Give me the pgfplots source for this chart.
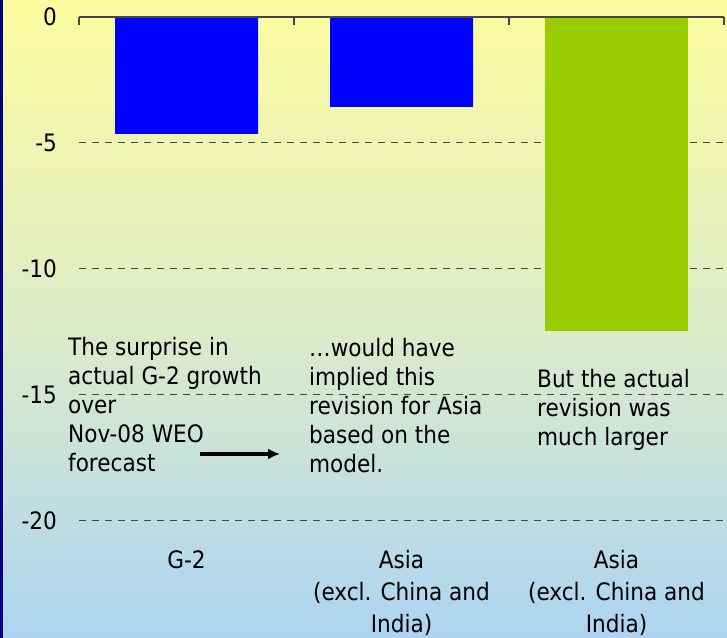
\documentclass[border=0pt]{standalone}
\usepackage{fontspec}
\setmainfont{DejaVu Sans Condensed}
\usepackage{pgfplots}
\pgfplotsset{compat=1.18}
\usetikzlibrary{arrows.meta}
\definecolor{bgtop}{RGB}{252,252,158}
\definecolor{bgmid}{RGB}{222,236,200}
\definecolor{bgbot}{RGB}{172,212,242}
\definecolor{navyb}{RGB}{0,0,128}
\definecolor{barblue}{RGB}{0,0,255}
\definecolor{bargreen}{RGB}{153,204,0}
\definecolor{gridgray}{RGB}{70,70,70}
\newcommand{\lines}[2][l]{\begin{tabular}[t]{@{}#1@{}}#2\end{tabular}}
\begin{document}
\fontsize{24bp}{29bp}\selectfont
\begin{tikzpicture}[x=1bp,y=1bp]
\shade[top color=bgtop, bottom color=bgbot, middle color=bgmid] (0,0) rectangle (727,638);
\fill[navyb] (0,0) rectangle (3,638);
\begin{axis}[
  at={(79bp,117bp)}, anchor=south west,
  scale only axis, width=645bp, height=504bp,
  xmin=0.5, xmax=3.5, ymin=-20, ymax=0,
  axis line style={draw=none},
  major tick length=0pt,
  xtick={1,2,3},
  xticklabels={{G-2},{\fontsize{24bp}{32bp}\selectfont\lines[c]{Asia\\(excl. China and\\India)}},{\fontsize{24bp}{32bp}\selectfont\lines[c]{Asia\\(excl. China and\\India)}}},
  xticklabel style={anchor=base, inner sep=0pt, yshift=-48bp, font=\fontsize{24bp}{32bp}\selectfont},
  ytick={-20,-15,-10,-5,0},
  yticklabels={-20,-15,-10,-5,0},
  yticklabel style={anchor=east, inner sep=0pt, xshift=-22bp, font=\fontsize{24bp}{29bp}\selectfont},
  ymajorgrids,
  grid style={gridgray, line width=1bp, dash pattern=on 7bp off 6bp},
  ybar, bar width=143bp,
  clip=false,
]
\addplot[fill=barblue, draw=none, bar shift=0pt] coordinates {(1,-4.64) (2,-3.57)};
\addplot[fill=bargreen, draw=none, bar shift=0pt] coordinates {(3,-12.46)};
\draw[gridgray, line width=1.2bp] (axis cs:0.5,0) -- (axis cs:3.5,0);
\draw[gridgray, line width=1.2bp] (axis cs:0.5,0) -- (axis cs:0.5,-0.32);
\draw[gridgray, line width=1.2bp] (axis cs:1.5,0) -- (axis cs:1.5,-0.32);
\draw[gridgray, line width=1.2bp] (axis cs:2.5,0) -- (axis cs:2.5,-0.32);
\draw[gridgray, line width=1.2bp] (axis cs:3.5,0) -- (axis cs:3.5,-0.32);
\end{axis}
\node[anchor=base west, inner sep=0pt] at (68,282) {\lines{The surprise in\\actual G-2 growth\\over\\Nov-08 WEO\\forecast}};
\node[anchor=base west, inner sep=0pt] at (309,281) {\lines{…would have\\implied this\\revision for Asia\\based on the\\model.}};
\node[anchor=base west, inner sep=0pt] at (537,250) {\lines{But the actual\\revision was\\much larger}};
\draw[-{Latex[length=12bp,width=11bp]}, line width=4bp] (200,184) -- (280,184);
\pgfresetboundingbox
\useasboundingbox (0,0) rectangle (727,638);
\end{tikzpicture}
\end{document}
